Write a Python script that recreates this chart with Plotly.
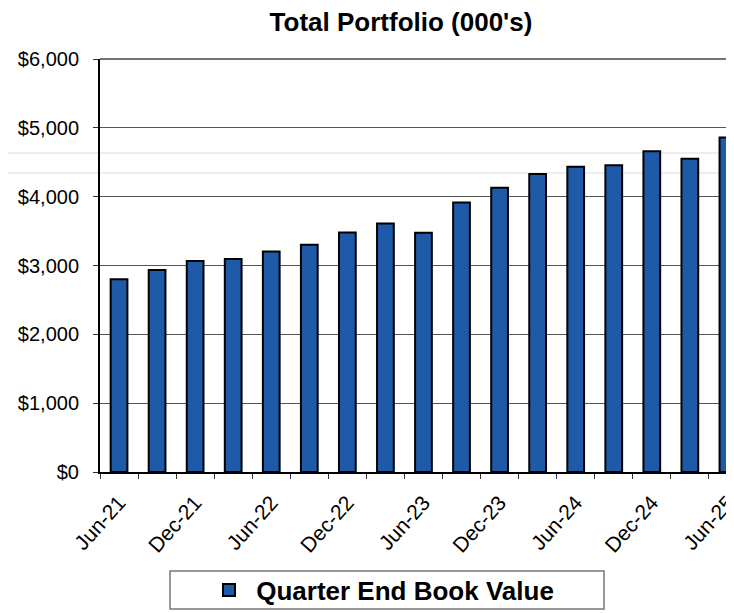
import plotly.graph_objects as go

quarters = ["Jun-21", "Sep-21", "Dec-21", "Mar-22", "Jun-22", "Sep-22", "Dec-22", "Mar-23",
            "Jun-23", "Sep-23", "Dec-23", "Mar-24", "Jun-24", "Sep-24", "Dec-24", "Mar-25", "Jun-25"]
book_value = [2800, 2935, 3065, 3095, 3205, 3300, 3480, 3610,
              3475, 3915, 4130, 4330, 4435, 4455, 4660, 4550, 4860]
tick_labels = [q if i % 2 == 0 else "" for i, q in enumerate(quarters)]
y_ticks = [0, 1000, 2000, 3000, 4000, 5000, 6000]
y_tick_labels = ["$0", "$1,000", "$2,000", "$3,000", "$4,000", "$5,000", "$6,000"]
series_name = "Quarter End Book Value"

FONT = "Arial, 'Liberation Sans', Helvetica, sans-serif"
OFF = 8  # page body margin of the html page
W, H = 734 - OFF, 613 - OFF
# plot area in page pixels: left 100, top 59, bottom 472, right 734
L = 100 - OFF
T = 59 - OFF
B = H - (472 - OFF)
PH = H - T - B
PW = W - L

def px_x(xpage):
    return (xpage - OFF - L) / PW

def px_y(ypage):
    return (H - B - (ypage - OFF)) / PH

fig = go.Figure()
fig.add_trace(go.Bar(
    x=quarters, y=book_value, name="<b>&nbsp;" + series_name + "</b>",
    marker=dict(color="#1f5aa8", line=dict(color="#000000", width=2)),
    showlegend=True,
))

fig.update_layout(
    width=W, height=H,
    margin=dict(l=L, r=0, t=T, b=B, autoexpand=False),
    paper_bgcolor="white", plot_bgcolor="white",
    bargap=0.56,
    font=dict(family=FONT, color="black", size=20),
    title=dict(text="<b>Total Portfolio (000's)</b>", x=px_x(401), xanchor="center",
               xref="paper", y=1 - (22 - OFF) / H, yref="container", yanchor="middle",
               font=dict(size=26, family=FONT, color="black")),
    xaxis=dict(
        type="category", range=[-0.5, 16.16],
        tickmode="array", tickvals=quarters, ticktext=tick_labels,
        tickson="boundaries", ticks="outside", ticklen=5, tickcolor="#333",
        tickangle=-48, tickfont=dict(size=21, family=FONT, color="black"),
        showline=True, linecolor="black", linewidth=2, showgrid=False,
        ticklabelstandoff=8,
    ),
    yaxis=dict(
        range=[0, 6000], tickmode="array", tickvals=y_ticks, ticktext=y_tick_labels,
        showgrid=True, gridcolor="#555", gridwidth=1,
        showline=True, linecolor="black", linewidth=2,
        ticks="outside", ticklen=5, tickcolor="#333",
        zeroline=False, tickfont=dict(size=20, family=FONT, color="black"),
        ticklabelstandoff=10,
    ),
    legend=dict(
        orientation="h", x=px_x(209), xanchor="left", y=px_y(590), yanchor="middle",
        font=dict(size=26, family=FONT, color="black"),
        bgcolor="rgba(0,0,0,0)", borderwidth=0,
    ),
    shapes=[
        dict(type="rect", xref="paper", yref="paper",
             x0=px_x(170), x1=px_x(604), y0=px_y(609), y1=px_y(571),
             line=dict(color="#777", width=1.5), fillcolor="rgba(0,0,0,0)", layer="below"),
        dict(type="line", xref="paper", yref="paper",
             x0=px_x(OFF), x1=1, y0=px_y(153), y1=px_y(153),
             line=dict(color="#dcdcdc", width=1), layer="below"),
        dict(type="line", xref="paper", yref="paper",
             x0=px_x(OFF), x1=1, y0=px_y(173), y1=px_y(173),
             line=dict(color="#dcdcdc", width=1), layer="below"),
        dict(type="line", xref="paper", yref="paper",
             x0=0, x1=1, y0=1, y1=1,
             line=dict(color="#444", width=1.5), layer="below"),
    ],
)

fig.write_html("out.html")
